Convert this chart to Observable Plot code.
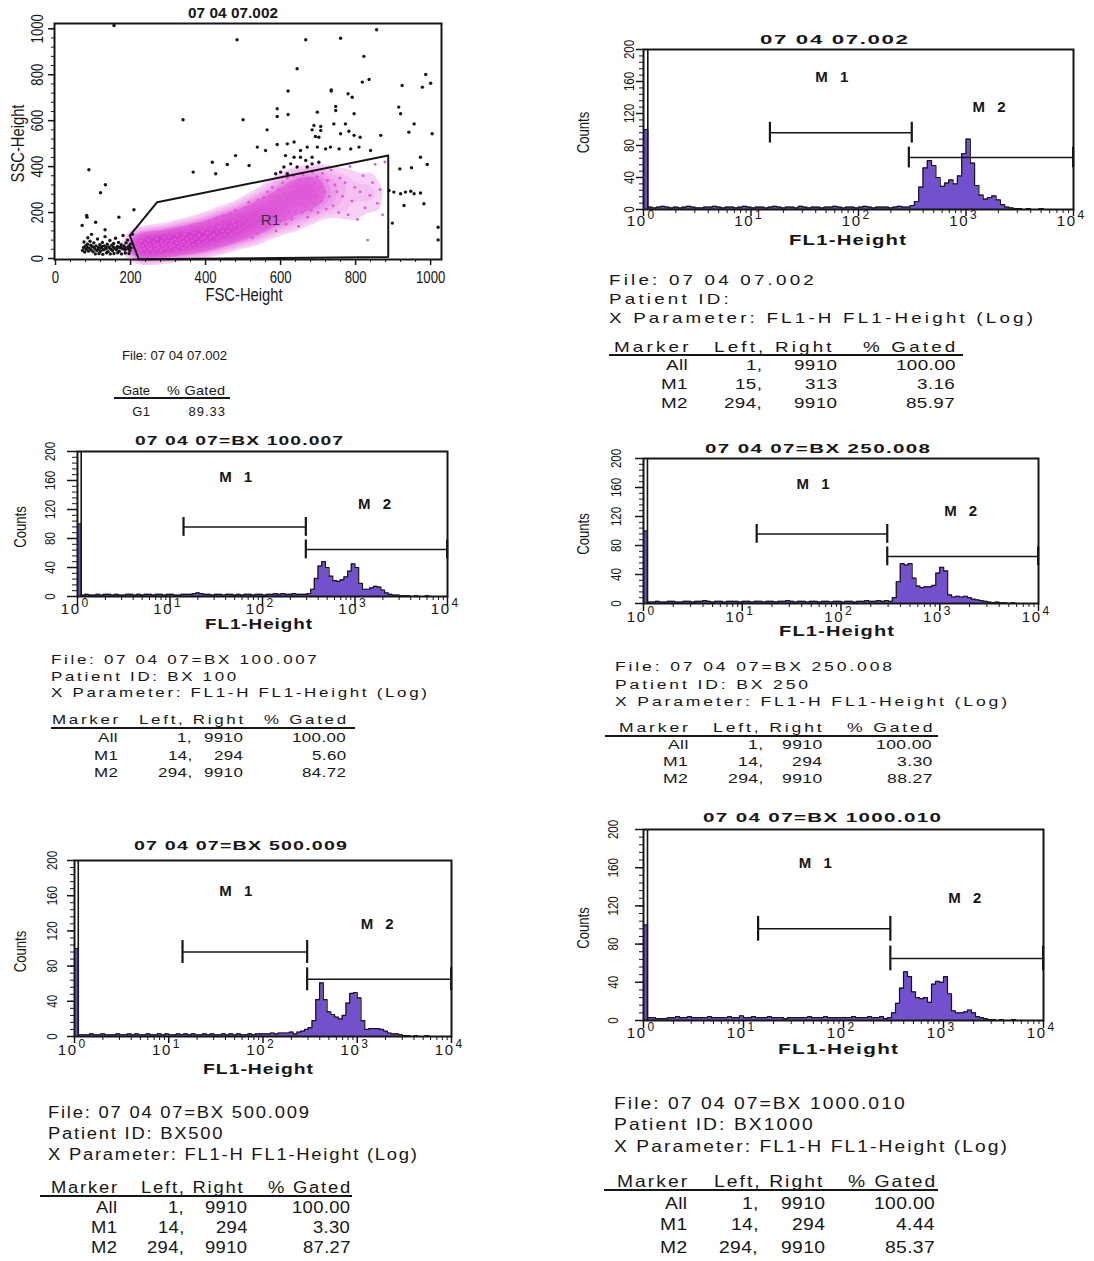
<!DOCTYPE html>
<html><head><meta charset="utf-8">
<script src="https://cdn.jsdelivr.net/npm/d3@7"></script>
<script src="https://cdn.jsdelivr.net/npm/@observablehq/plot@0.6"></script>
<style>
body{margin:0;background:#fff;}
#page{position:relative;width:1094px;height:1261px;overflow:hidden;background:#fff;color:#161616;}
.abs{position:absolute;white-space:pre;transform-origin:0 50%;}
</style></head><body><div id="page"></div>
<script>
// ---------------- DATA ----------------
// Scatter (FSC-Height vs SSC-Height), gated cells (R1, magenta) and ungated cells (black)
const gatedCells = [
 [205,55],[210,40],[212,70],[215,50],[218,85],[220,30],[222,60],[225,45],[228,75],[230,35],[232,55],[235,90],[238,42],[240,65],[242,28],[245,52],[248,80],[250,38],
 [252,60],[255,45],[258,95],[260,30],[262,70],[265,55],[268,40],[270,85],[272,62],[275,48],[278,105],[280,35],[282,72],[285,58],[288,44],[290,90],[292,66],[295,52],[298,78],[300,40],
 [302,95],[305,60],[308,48],[310,75],[312,110],[315,55],[318,85],[320,38],[322,68],[325,100],[328,52],[330,80],[332,125],[335,62],[338,92],[340,45],[342,72],[345,105],[348,58],[350,85],
 [352,120],[355,68],[358,50],[360,95],[362,140],[365,78],[368,60],[370,110],[372,88],[375,45],[378,130],[380,72],[382,100],[385,58],[388,150],[390,85],[392,118],[395,66],[398,95],[400,135],
 [402,78],[405,110],[408,55],[410,160],[412,92],[415,125],[418,70],[420,145],[422,100],[425,62],[428,175],[430,115],[432,85],[435,135],[438,98],[440,155],[442,75],[445,120],[448,185],[450,105],
 [452,140],[455,90],[458,165],[460,120],[462,75],[465,195],[468,135],[470,105],[472,160],[475,85],[478,145],[480,210],[482,118],[485,175],[488,95],[490,150],[492,130],[495,190],[498,110],[500,165],
 [502,135],[505,220],[508,100],[510,180],[512,150],[515,245],[518,120],[520,195],[522,160],[525,90],[528,230],[530,140],[532,205],[535,175],[538,110],[540,255],[542,185],[545,150],[548,215],[550,125],
 [552,195],[555,265],[558,160],[560,230],[562,135],[565,290],[568,205],[570,175],[572,250],[575,145],[578,310],[580,220],[582,185],[585,270],[588,120],[590,240],[592,200],[595,300],[598,165],[600,255],
 [602,215],[605,330],[608,185],[610,280],[612,240],[615,150],[618,350],[620,265],[622,200],[625,310],[628,230],[630,170],[632,290],[635,360],[638,250],[640,205],[642,320],[645,275],[648,140],[650,340],
 [652,240],[655,300],[658,200],[660,365],[662,270],[665,320],[668,225],[670,285],[672,180],[675,345],[678,260],[680,305],[682,210],[685,375],[688,290],[690,240],[692,330],[695,270],[698,355],[700,200],
 [705,310],[710,250],[712,370],[718,290],[722,215],[725,340],[730,270],[735,385],[740,230],[745,320],[750,290],[755,200],[758,350],
 [765,270],[772,330],[780,190],[785,400],[790,250],[798,310],[805,170],[812,290],[820,360],[825,220],[832,80],[838,275],[845,330],[852,410],[858,240],[865,300],[872,190],[878,420]
];
const ungatedCells = [
 [72,35],[75,48],[78,28],[80,55],[82,40],[85,62],[88,32],[90,45],[92,75],[95,38],[98,52],[100,30],[102,68],[105,42],[108,55],[110,35],[112,85],[115,48],[118,60],[120,32],
 [122,45],[125,70],[128,38],[130,55],[132,95],[135,42],[138,62],[140,30],[142,50],[145,78],[148,40],[150,58],[152,35],[155,65],[158,45],[160,88],[162,38],[165,52],[168,70],[170,32],
 [172,48],[175,60],[178,42],[180,100],[182,55],[185,38],[188,68],[190,45],[192,80],[195,52],[198,35],[200,62],[202,48],[205,105],[76,72],[86,90],[96,105],[106,20],[116,22],[126,18],
 [136,25],[146,20],[156,22],[166,25],[176,20],[186,24],[196,22],[84,50],[94,58],[104,48],[114,40],[124,52],[134,50],[144,46],[154,50],[164,44],[174,50],[184,48],[194,42],
 [156,1014],[484,952],[667,952],[760,959],[856,996],[822,880],[644,826],[818,768],[836,779],[735,734],[735,729],[620,729],[780,717],[791,702],[924,753],[978,746],[987,801],[1000,763],
 [915,659],[920,630],[747,662],[747,644],[796,630],[591,652],[591,618],[620,627],[698,637],[340,604],[500,604],[564,560],[742,586],[773,586],[782,554],[689,579],[684,560],[707,575],
 [707,557],[693,531],[702,528],[760,543],[796,536],[812,528],[867,536],[956,586],[942,550],[1004,543],[973,441],[991,409],[949,395],[918,390],[538,485],[560,470],[591,496],[618,499],
 [636,507],[653,470],[671,485],[698,485],[720,477],[733,485],[756,477],[787,477],[809,485],[840,470],[613,448],[636,441],[653,441],[667,427],[684,412],[702,419],[627,412],[644,398],
 [671,398],[684,441],[609,398],[600,376],[618,369],[587,369],[516,405],[480,448],[458,409],[418,419],[427,369],[367,376],[89,386],[120,286],[133,321],[83,187],[84,180],[71,144],
 [107,158],[169,180],[209,212],[132,125],[889,296],[902,289],[920,282],[933,289],[947,293],[929,231],[956,282],[973,285],[982,238],[898,154],[1020,81],[1020,136]
];
const gateFSC = [198, 271, 887, 887, 222, 198];
const gateSSC = [100, 245, 448, 6, -3, 100];
const scatterTicks = [0, 200, 400, 600, 800, 1000];
const scatterTitle = "07 04 07.002";
const gateFile = "File: 07 04 07.002";
const gateNames = ["G1"];
const gatePct = [89.33];

// Histograms (FL1-Height, log), counts per 1/25-decade channel group from 10^0 to 10^4
const binsPerDecade = 25;
const countsB = [
 100,3,2,3,4,3,2,3,2,3, 4,3,2,2,3,3,4,3,2,3, 3,2,3,4,3,2,3,3,2,3, 4,3,2,3,3,2,4,3,2,3, 3,2,3,3,4,3,2,3,3,2,
 3,4,3,2,3,3,3,2,3,4, 3,3,5,10,28,52,61,55,40,29, 33,37,32,42,70,88,58,30,18,13, 15,17,12,6,3,2,1,1,0,1, 0,0,1,0,0,0,0,0,0,0];
const countsC = [
 100,2,3,2,2,3,2,3,3,2, 3,2,2,3,3,2,3,2,3,3, 2,3,3,2,3,3,2,2,3,3, 3,4,5,4,3,3,2,3,3,2, 3,3,2,3,2,3,3,2,3,3,
 2,3,3,4,3,4,3,3,4,3, 3,3,4,10,25,42,48,40,28,22, 21,23,27,35,45,40,18,10,10,12, 14,13,9,5,3,2,2,1,1,1, 0,1,0,0,1,0,0,0,0,0];
const countsD = [
 100,2,2,3,2,2,3,3,2,2, 3,3,2,3,3,4,3,2,3,3, 2,3,3,3,2,3,3,2,3,3, 2,3,3,2,3,3,4,3,2,3, 3,2,3,3,2,3,3,2,3,3,
 2,3,3,2,3,3,4,3,3,4, 3,4,3,8,30,55,53,55,35,24, 22,23,23,25,42,50,45,12,9,10, 9,10,8,6,5,4,3,2,1,2, 1,1,0,1,0,0,0,0,0,0];
const countsE = [
 100,2,2,2,3,2,2,3,2,2, 2,3,2,2,3,2,3,2,2,3, 2,2,3,2,3,2,2,3,2,3, 2,3,2,2,3,2,3,2,2,3, 2,3,2,3,2,2,3,2,3,3,
 3,3,4,3,4,4,4,5,3,5, 6,8,10,18,42,61,42,28,25,22, 20,24,38,49,50,44,18,8,9,9, 9,8,6,4,3,3,2,1,1,0, 1,0,0,1,0,0,0,0,0,0];
const countsF = [
 100,3,3,2,2,2,3,3,4,3, 3,4,3,3,3,3,4,3,3,3, 3,4,3,3,5,3,3,4,3,3, 3,4,3,3,3,2,3,3,3,3, 3,4,3,3,3,4,3,3,3,3,
 3,3,4,3,3,3,4,3,3,4, 2,3,8,18,34,51,46,30,24,23, 24,19,38,41,40,46,28,10,8,8, 9,11,8,4,3,2,1,1,0,1, 0,0,1,0,0,0,0,0,0,0];

const histTitles = ["07 04 07.002", "07 04 07=BX 100.007", "07 04 07=BX 250.008", "07 04 07=BX 500.009", "07 04 07=BX 1000.010"];
const patientIds = ["", "BX 100", "BX 250", "BX500", "BX1000"];
const xParameter = "X Parameter: FL1-H FL1-Height (Log)";
const xAxisTitle = "FL1-Height";
const yAxisTitle = "Counts";
const markerNames = ["All", "M1", "M2"];
const markerLeft = [[1, 15, 294], [1, 14, 294], [1, 14, 294], [1, 14, 294], [1, 14, 294]];
const markerRight = [[9910, 313, 9910], [9910, 294, 9910], [9910, 294, 9910], [9910, 294, 9910], [9910, 294, 9910]];
const pctGated = [[100.00, 3.16, 85.97], [100.00, 5.60, 84.72], [100.00, 3.30, 88.27], [100.00, 3.30, 87.27], [100.00, 4.44, 85.37]];
const xTickValues = [1, 10, 100, 1000, 10000];
const xTickExponents = ["0", "1", "2", "3", "4"];
const yTickValues = [0, 40, 80, 120, 160, 200];

// ---------------- RENDER ----------------
const ink = "#161616";
const purple = "#7350cc";
const magenta = "#e055d8";
const sans = '"Liberation Sans", Arial, Helvetica, sans-serif';
const narrow = '"Liberation Sans Narrow", "Arial Narrow", "Liberation Sans", sans-serif';
const page = document.getElementById("page");
const ctx = document.createElement("canvas").getContext("2d");
ctx.font = `16px "Liberation Sans"`;
const wReg = ctx.measureText("Counts 1000").width;
ctx.font = `16px "Liberation Sans Narrow", "Liberation Sans"`;
const narrowMissing = Math.abs(ctx.measureText("Counts 1000").width - wReg) < 0.5;

function natWidth(str, size, wt, fam) {
  ctx.font = `${wt || "normal"} ${size}px ${fam || sans}`;
  return ctx.measureText(str).width;
}
// o: x, y (centre), size, weight, family, anchor, width (fit), stretch, sx, ls
function addText(str, o) {
  const fam = o.family || sans;
  const wt = o.weight || "normal";
  const nat = natWidth(str, o.size, wt, fam);
  const n = str.length;
  let ls = o.ls != null ? o.ls : 0;
  let sx = o.sx != null ? o.sx : 1;
  if (o.width != null && n > 1) {
    if (o.stretch) {
      const ratio = o.width / nat;
      sx = ratio > 1 ? 1 + (ratio - 1) * 0.75 : ratio;
    }
    ls = (o.width / sx - nat) / (n - 1);
  }
  const vis = (nat + ls * (n - 1)) * sx;
  const left = o.anchor === "end" ? o.x - vis : o.anchor === "middle" ? o.x - vis / 2 : o.x;
  const el = document.createElement("div");
  el.className = "abs";
  el.textContent = str;
  Object.assign(el.style, {left: left + "px", top: (o.y - o.size / 2) + "px", fontSize: o.size + "px",
    fontFamily: fam, fontWeight: wt, letterSpacing: ls + "px", lineHeight: o.size + "px", color: ink,
    transform: `scaleX(${sx})`});
  page.appendChild(el);
  return {ls, sx};
}
function addLine(x1, x2, y) {
  const el = document.createElement("div");
  Object.assign(el.style, {position: "absolute", left: x1 + "px", top: (y - 1) + "px", width: (x2 - x1) + "px", height: "2px", background: ink});
  page.appendChild(el);
}
function place(svg, left, top) {
  svg.style.position = "absolute";
  svg.style.left = left + "px";
  svg.style.top = top + "px";
  svg.style.overflow = "visible";
  page.appendChild(svg);
  if (narrowMissing) {
    svg.querySelectorAll("g[font-family] text").forEach(t => {
      const g = t.closest("g[font-family]");
      if (!/Narrow/.test(g.getAttribute("font-family"))) return;
      const len = t.getComputedTextLength();
      t.setAttribute("textLength", (len * 0.82).toFixed(1));
      t.setAttribute("lengthAdjust", "spacingAndGlyphs");
    });
  }
}

// ---- Scatter panel ----
{
  const minorX = d3.range(0, 1021, 40);
  const outerColor = d3.interpolateRgb("#f8d2f5", "#e98ce3");
  const coreColor = d3.interpolateRgb("#e46ddd", "#d43ccd");
  const densityColor = t => t < 0.1 ? "#ffffff" : t < 0.32 ? outerColor((t - 0.1) / 0.22) : coreColor(Math.min(1, (t - 0.32) / 0.5));
  const marks = [];
  if (typeof Plot.density === "function") {
    marks.push(Plot.density(gatedCells, {x: d => d[0], y: d => d[1], fill: "density", stroke: "none", bandwidth: 6, thresholds: 20}));
  }
  marks.push(
    Plot.dot(ungatedCells, {x: d => d[0], y: d => d[1], r: 1.7, fill: ink, stroke: "none"}),
    Plot.dot(gatedCells, {x: d => d[0], y: d => d[1], r: 1.4, fill: magenta, stroke: "none"}),
    Plot.line(gateFSC.map((v, i) => [v, gateSSC[i]]), {x: d => d[0], y: d => d[1], stroke: ink, strokeWidth: 2}),
    Plot.text(["R1"], {x: 573, y: 165, text: d => d, fontSize: 15, fontFamily: sans, fill: "#333"}),
    Plot.axisX(minorX, {tickSize: 3, tickFormat: () => "", label: null}),
    Plot.axisX(scatterTicks, {tickSize: 6, tickFormat: () => "", label: null, strokeWidth: 1.5}),
    Plot.axisY(minorX, {tickSize: 3, tickFormat: () => "", label: null}),
    Plot.axisY(scatterTicks, {tickSize: 6, tickFormat: () => "", label: null, strokeWidth: 1.5}),
    Plot.text(scatterTicks, {x: d => d, frameAnchor: "bottom", dy: 18, lineAnchor: "middle", textAnchor: "middle", text: d => String(d), fontSize: 16, fontFamily: narrow}),
    Plot.text(scatterTicks, {y: d => d, frameAnchor: "left", dx: -17, rotate: -90, textAnchor: "middle", lineAnchor: "middle", text: d => String(d), fontSize: 16, fontFamily: narrow}),
    Plot.text(["FSC-Height"], {frameAnchor: "bottom", dx: -4, dy: 36, lineAnchor: "middle", textAnchor: "middle", text: d => d, fontSize: 18, fontFamily: narrow}),
    Plot.text(["SSC-Height"], {frameAnchor: "left", dx: -36, dy: 2, rotate: -90, textAnchor: "middle", lineAnchor: "middle", text: d => d, fontSize: 18, fontFamily: narrow}),
    Plot.frame({stroke: ink, strokeWidth: 2})
  );
  const svg = Plot.plot({
    width: 470, height: 312, marginLeft: 54, marginRight: 29, marginTop: 23, marginBottom: 53,
    x: {domain: [-2.7, 1029], axis: null},
    y: {domain: [-4.4, 1023], axis: null},
    color: {type: "linear", interpolate: densityColor},
    style: {fontFamily: sans, color: ink, background: "transparent", overflow: "visible"},
    marks
  });
  place(svg, 0, 0);
  addText(scatterTitle, {x: 233, y: 12, size: 15, weight: "bold", anchor: "middle", width: 90, stretch: true});
  addText(gateFile, {x: 122, y: 355, size: 13, width: 105, stretch: true});
  addText("Gate", {x: 150, y: 390, size: 13, anchor: "end", width: 28, stretch: true});
  addText("% Gated", {x: 225, y: 390, size: 13, anchor: "end", width: 58, stretch: true});
  addLine(114, 230, 398);
  addText(gateNames[0], {x: 150, y: 411, size: 13, anchor: "end", ls: 0.5});
  addText(gatePct[0].toFixed(2), {x: 225, y: 411, size: 13, anchor: "end", ls: 1});
}

// ---- Histogram panels ----
const histCounts = [countsB, countsC, countsD, countsE, countsF];
const histLayout = [
  {frame: [643, 49, 1073, 209], tick: 7, yLabDx: -14, countsDx: -60, xLabDy: 12, title: [834, 39, 148], xlab: [847, 240, 117],
   text: {x: 609, size: 14.5, lines: [280, 299, 318], xpW: 424, header: 347, rule: [609, 963, 355], rows: [365, 384, 403], cols: [688, 762, 837, 955], lrHead: 832}},
  {frame: [77, 451, 447, 596], tick: 10, yLabDx: -27, countsDx: -57, xLabDy: 13, title: [239, 440, 208], xlab: [258, 624, 107],
   text: {x: 51, size: 13.3, lines: [660, 677, 693], xpW: 376, header: 720, rule: [51, 355, 728], rows: [738, 756, 773], cols: [118, 192, 243, 346], lrHead: 243}},
  {frame: [643, 458, 1038, 603], tick: 8, yLabDx: -26.6, countsDx: -60, xLabDy: 13.5, title: [817, 448, 225], xlab: [836, 631, 115],
   text: {x: 615, size: 13.7, lines: [667, 685, 702], xpW: 392, header: 728, rule: [605, 938, 736], rows: [745, 762, 779], cols: [688, 763, 822, 932], lrHead: 822}},
  {frame: [74, 860, 451, 1036], tick: 7, yLabDx: -22.3, countsDx: -54, xLabDy: 14, title: [240, 845, 213], xlab: [258, 1069, 110],
   text: {x: 48, size: 16, lines: [1113, 1134, 1155], xpW: 369, header: 1188, rule: [40, 352, 1196], rows: [1208, 1228, 1248], cols: [117, 184, 247, 350], lrHead: 243}},
  {frame: [643, 829, 1043, 1020], tick: 8, yLabDx: -30, countsDx: -60, xLabDy: 12.3, title: [822, 817, 238], xlab: [838, 1049, 120],
   text: {x: 614, size: 16.5, lines: [1103, 1124, 1146], xpW: 393, header: 1181, rule: [604, 938, 1190], rows: [1203, 1224, 1247], cols: [687, 758, 825, 935], lrHead: 822}}
];
const xMinor = [];
for (let d = 0; d < 4; d++) for (let m = 2; m <= 9; m++) xMinor.push(m * 10 ** d);
const yMinor = d3.range(0, 201, 8);

histCounts.forEach((counts, k) => {
  const p = histLayout[k];
  const [L, T, R, B] = p.frame;
  const mL = 80, mR = 20, mT = 10, mB = 30;
  const rows = counts.map((c, i) => ({x: 10 ** (i / binsPerDecade), y: c}));
  rows.push({x: 1e4, y: counts[counts.length - 1]});
  const mk = [1, 2].map(i => ({name: markerNames[i], l: markerLeft[k][i], r: markerRight[k][i], level: i === 1 ? 96 : 65, labelY: i === 1 ? 165 : 128}));
  const ends = mk.flatMap(m => [{x: m.l, level: m.level}, {x: m.r, level: m.level}]);
  const svg = Plot.plot({
    width: R - L + mL + mR, height: B - T + mT + mB,
    marginLeft: mL, marginRight: mR, marginTop: mT, marginBottom: mB,
    x: {type: "log", domain: [1, 1e4], axis: null},
    y: {domain: [0, 200], axis: null},
    style: {fontFamily: sans, color: ink, background: "transparent", overflow: "visible"},
    marks: [
      Plot.areaY(rows, {x: "x", y: "y", curve: "step-after", fill: purple}),
      Plot.lineY(rows, {x: "x", y: "y", curve: "step-after", stroke: ink, strokeWidth: 1.2}),
      Plot.ruleX([rows[1].x], {y1: 0, y2: 200, stroke: ink, strokeWidth: 1.6}),
      Plot.ruleY(mk, {y: "level", x1: "l", x2: "r", stroke: ink, strokeWidth: 1.5}),
      Plot.ruleX(ends, {x: "x", y1: d => d.level - 13, y2: d => d.level + 13, stroke: ink, strokeWidth: 2.2}),
      Plot.text(mk.slice(0, 1), {x: d => Math.sqrt(d.l * d.r), y: "labelY", dx: -7, text: d => d.name.replace(/(\d)/, " $1"), fontSize: 15, fontWeight: "bold"}),
      Plot.text(mk.slice(1), {x: d => Math.sqrt(d.l * d.r), y: "labelY", text: d => d.name.replace(/(\d)/, " $1"), fontSize: 15, fontWeight: "bold"}),
      Plot.axisX(xMinor, {tickSize: 4, tickFormat: () => "", label: null}),
      Plot.axisX(xTickValues, {tickSize: p.tick, tickFormat: () => "", label: null, strokeWidth: 1.5}),
      Plot.axisY(yMinor, {tickSize: Math.round(p.tick / 2), tickFormat: () => "", label: null}),
      Plot.axisY(yTickValues, {tickSize: p.tick, tickFormat: () => "", label: null, strokeWidth: 1.5}),
      Plot.text(xTickValues, {x: d => d, frameAnchor: "bottom", dy: p.xLabDy, dx: 3, lineAnchor: "middle", text: () => "10", textAnchor: "end", fontSize: 15}),
      Plot.text(xTickValues, {x: d => d, frameAnchor: "bottom", dy: p.xLabDy - 6, dx: 4, lineAnchor: "middle", text: (d, i) => xTickExponents[i], textAnchor: "start", fontSize: 12}),
      Plot.text(yTickValues, {y: d => d, frameAnchor: "left", dx: p.yLabDx, rotate: -90, textAnchor: "middle", lineAnchor: "middle", text: d => String(d), fontSize: 14, fontFamily: narrow}),
      Plot.text([yAxisTitle], {frameAnchor: "left", dx: p.countsDx, dy: 3, rotate: -90, textAnchor: "middle", lineAnchor: "middle", text: d => d, fontSize: 16, fontFamily: narrow}),
      Plot.frame({stroke: ink, strokeWidth: 2})
    ]
  });
  svg.querySelectorAll("text").forEach(t => {
    if (/^M \d$/.test(t.textContent)) t.style.letterSpacing = "4px";
    if (t.textContent === "10") t.style.letterSpacing = "1.5px";
  });
  place(svg, L - mL, T - mT);

  addText(histTitles[k], {x: p.title[0], y: p.title[1], size: 13, weight: "bold", anchor: "middle", width: p.title[2], stretch: true});
  addText(xAxisTitle, {x: p.xlab[0], y: p.xlab[1], size: 14, weight: "bold", anchor: "middle", width: p.xlab[2], stretch: true});

  const t = p.text;
  const nat = natWidth(xParameter, t.size);
  const ratio = t.xpW / nat;
  const sx = ratio > 1 ? 1 + (ratio - 1) * 0.4 : ratio;
  const ls = (t.xpW / sx - nat) / (xParameter.length - 1);
  const base = {size: t.size, ls, sx};
  const num = {size: t.size, ls: 0.3, sx};
  addText("File: " + histTitles[k], {...base, x: t.x, y: t.lines[0]});
  addText(("Patient ID: " + patientIds[k]).trim(), {...base, x: t.x, y: t.lines[1]});
  addText(xParameter, {...base, x: t.x, y: t.lines[2]});
  addText("Marker", {...base, x: t.cols[0], y: t.header, anchor: "end"});
  addText("Left, Right", {...base, x: t.lrHead, y: t.header, anchor: "end"});
  addText("% Gated", {...base, x: t.cols[3], y: t.header, anchor: "end"});
  addLine(t.rule[0], t.rule[1], t.rule[2]);
  markerNames.forEach((m, i) => {
    const y = t.rows[i];
    addText(m, {...num, x: t.cols[0], y, anchor: "end"});
    addText(markerLeft[k][i] + ",", {...num, x: t.cols[1], y, anchor: "end"});
    addText(String(markerRight[k][i]), {...num, x: t.cols[2], y, anchor: "end"});
    addText(pctGated[k][i].toFixed(2), {...num, x: t.cols[3], y, anchor: "end"});
  });
});
</script></body></html>
